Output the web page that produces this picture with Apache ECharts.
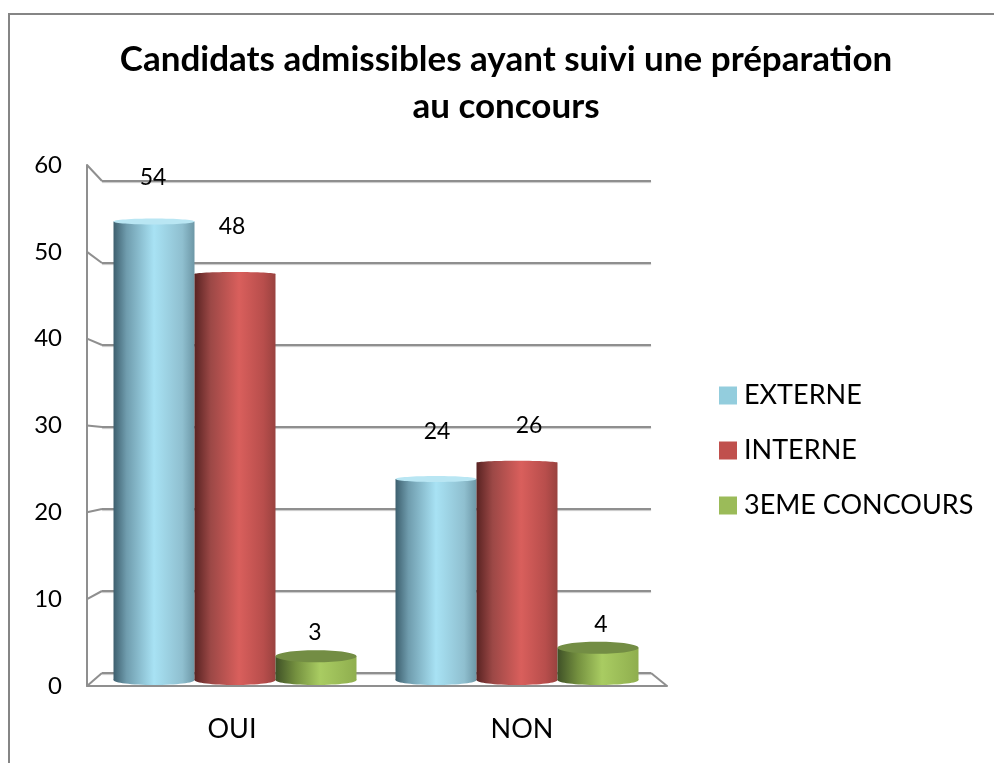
<!DOCTYPE html>
<html>
<head>
<meta charset="utf-8">
<title>Candidats admissibles</title>
<script src="https://cdn.jsdelivr.net/npm/echarts@6/dist/echarts.min.js"></script>
<style>
  html, body { margin: 0; padding: 0; background: #fff; }
  #chart { width: 994px; height: 763px; }
</style>
</head>
<body>
<div id="chart"></div>
<script>
const categories = ['OUI', 'NON']
const externe = [54, 24]
const interne = [48, 26]
const troisieme = [3, 4]
const axisTicks = [0, 10, 20, 30, 40, 50, 60]

const fontName = 'Lato, "Open Sans", sans-serif'
const gridColor = '#8f8f8f'
const barWidth = 81

// small shifts of the value labels, the original has them placed by hand
const labelShift = [
  [[-1, -43], [1, -46]],
  [[-3, -45], [12, -35]],
  [[-1, -26], [3, -25]]
]

const shades = [
  [[0, '#3d5f6e'], [0.16, '#6f9cad'], [0.5, '#a8e2f4'], [0.85, '#8fbfcf'], [1, '#6d97a6']],
  [[0, '#592322'], [0.2, '#9c4846'], [0.55, '#d95f5c'], [0.85, '#b84e4c'], [1, '#99423f']],
  [[0, '#3f5127'], [0.25, '#74903f'], [0.55, '#a9cc62'], [1, '#8fae4e']]
]
const caps = ['#b9e6f3', null, '#738d44']
const capHeight = [3, 2, 6]
const capLift = [2, 0, 8]

const chart = echarts.init(document.getElementById('chart'))

const renderCylinder = (params, api) => {
  const i = params.seriesIndex
  const value = api.value(1)
  const top = api.coord([api.value(0), value])
  const base = api.coord([api.value(0), 0])
  const cx = top[0] + (i - 1) * barWidth
  const rx = barWidth / 2
  const ryTop = capHeight[i]
  const capY = top[1] - capLift[i] + ryTop
  const ryBase = 5
  const fill = new echarts.graphic.LinearGradient(0, 0, 1, 0, shades[i].map(s => ({ offset: s[0], color: s[1] })))
  const shift = labelShift[i][params.dataIndex]
  return {
    type: 'group',
    children: [
      { type: 'ellipse', shape: { cx: cx, cy: base[1] - ryBase + 1, rx: rx, ry: ryBase }, style: { fill: fill } },
      { type: 'rect', shape: { x: cx - rx, y: capY, width: barWidth, height: base[1] - ryBase + 1 - capY }, style: { fill: fill } },
      { type: 'ellipse', shape: { cx: cx, cy: capY, rx: rx, ry: ryTop }, style: { fill: caps[i] || fill } },
      {
        type: 'text',
        z2: 10,
        style: {
          text: String(value),
          x: cx + shift[0],
          y: top[1] + shift[1],
          align: 'center',
          verticalAlign: 'middle',
          font: '23px ' + fontName,
          fill: '#000'
        }
      }
    ]
  }
}

// diagonal pieces joining the front axis to the back wall
const renderDepth = (params, api) => {
  const value = api.value(0)
  const front = chart.convertToPixel({ xAxisIndex: 0, yAxisIndex: 0 }, [0, value])
  const frontY = front[1]
  const backY = chart.convertToPixel({ yAxisIndex: 1 }, value)
  const style = { stroke: gridColor, lineWidth: 2 }
  const rect = params.coordSys
  const back = chart.getModel().getComponent('grid', 1).coordinateSystem.getRect()
  const children = [
    { type: 'line', shape: { x1: rect.x, y1: frontY, x2: back.x, y2: backY }, style: style }
  ]
  if (value === 0) {
    children.push({ type: 'line', shape: { x1: rect.x + rect.width, y1: frontY, x2: back.x + back.width, y2: backY }, style: style })
  }
  return { type: 'group', children: children }
}

const cylinderSeries = (name, values, color) => ({
  name: name,
  type: 'custom',
  xAxisIndex: 2,
  yAxisIndex: 2,
  itemStyle: { color: color },
  encode: { x: 0, y: 1 },
  data: values.map((v, i) => [i, v]),
  renderItem: renderCylinder,
  silent: true,
  z: 5
})

const option = {
  animation: false,
  backgroundColor: '#fff',
  title: {
    text: 'Candidats admissibles ayant suivi une préparation\nau concours',
    left: 501,
    top: 31,
    textAlign: 'center',
    textStyle: { fontFamily: fontName, fontSize: 35, fontWeight: 'bold', color: '#000', lineHeight: 47 }
  },
  legend: {
    orient: 'vertical',
    left: 714,
    top: 377,
    itemWidth: 18,
    itemHeight: 18,
    itemGap: 28,
    icon: 'rect',
    data: ['EXTERNE', 'INTERNE', '3EME CONCOURS'],
    textStyle: { fontFamily: fontName, fontSize: 27, color: '#000', padding: [0, 0, 0, 2] }
  },
  grid: [
    { left: 87, top: 165, width: 580, height: 521 },
    { left: 102, top: 181, width: 549, height: 492 },
    { left: 94, top: 169, width: 564, height: 515 }
  ],
  xAxis: [
    {
      type: 'category',
      gridIndex: 0,
      data: categories,
      axisLine: { lineStyle: { color: gridColor, width: 2 } },
      axisTick: { show: false },
      axisLabel: { fontFamily: fontName, fontSize: 27, color: '#000', margin: 30 }
    },
    { type: 'category', gridIndex: 1, data: categories, show: false },
    { type: 'category', gridIndex: 2, data: categories, show: false }
  ],
  yAxis: [
    {
      type: 'value',
      gridIndex: 0,
      min: 0,
      max: 60,
      interval: 10,
      axisLine: { show: true, lineStyle: { color: gridColor, width: 2 } },
      axisTick: { show: false },
      splitLine: { show: false },
      axisLabel: { fontFamily: fontName, fontSize: 24, color: '#000', margin: 25, padding: [5, 0, 0, 0] }
    },
    {
      type: 'value',
      gridIndex: 1,
      min: 0,
      max: 60,
      interval: 10,
      axisLine: { show: false },
      axisTick: { show: false },
      axisLabel: { show: false },
      splitLine: { show: true, lineStyle: { color: gridColor, width: 2, shadowColor: '#c8c8c8', shadowBlur: 1, shadowOffsetY: 1 } }
    },
    { type: 'value', gridIndex: 2, min: 0, max: 60, show: false }
  ],
  graphic: [
    { type: 'line', silent: true, shape: { x1: 9, y1: 763, x2: 9, y2: 13 }, style: { stroke: '#858585', lineWidth: 2 } },
    { type: 'line', silent: true, shape: { x1: 8, y1: 14, x2: 994, y2: 14 }, style: { stroke: '#858585', lineWidth: 2 } }
  ],
  series: [
    cylinderSeries('EXTERNE', externe, '#93cddd'),
    cylinderSeries('INTERNE', interne, '#c0504d'),
    cylinderSeries('3EME CONCOURS', troisieme, '#9bbb59'),
    {
      type: 'custom',
      xAxisIndex: 0,
      yAxisIndex: 0,
      encode: { y: 0 },
      data: axisTicks.map(v => [v]),
      renderItem: renderDepth,
      silent: true,
      z: 1
    }
  ]
}

chart.setOption(option)
</script>
</body>
</html>
